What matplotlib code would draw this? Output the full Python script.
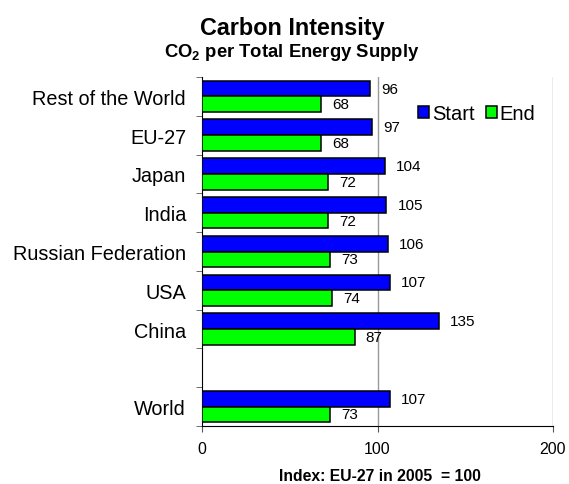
import matplotlib
matplotlib.use("Agg")
import matplotlib.pyplot as plt
import numpy as np

plt.rcParams['font.family'] = ['Liberation Sans', 'DejaVu Sans']
plt.rcParams['mathtext.fontset'] = 'custom'
plt.rcParams['mathtext.rm'] = 'Liberation Sans'
plt.rcParams['mathtext.bf'] = 'Liberation Sans:bold'

categories = ["Rest of the World", "EU-27", "Japan", "India", "Russian Federation",
              "USA", "China", "", "World"]
start_vals = [96, 97, 104, 105, 106, 107, 135, None, 107]
end_vals = [68, 68, 72, 72, 73, 74, 87, None, 73]
x_ticks = [0, 100, 200]

W, H = 569, 485
fig = plt.figure(figsize=(W / 100, H / 100), dpi=100)
ax = fig.add_axes([202 / W, 1 - 427 / H, 351 / W, 349 / H])

pos = np.arange(len(categories))
h = 0.405
for i, (s, e) in enumerate(zip(start_vals, end_vals)):
    if s is None:
        continue
    ax.barh(i - h / 2, s, height=h, color="#0000ff", edgecolor="black", linewidth=1.1,
            label="Start" if i == 0 else None, zorder=3)
    ax.barh(i + h / 2, e, height=h, color="#00ff00", edgecolor="black", linewidth=1.1,
            label="End" if i == 0 else None, zorder=3)
    ax.annotate(str(s), (s, i - h / 2), xytext=(8, 0), textcoords="offset points",
                va="center", ha="left", fontsize=11)
    ax.annotate(str(e), (e, i + h / 2), xytext=(8, 0), textcoords="offset points",
                va="center", ha="left", fontsize=11)

ax.set_xlim(0, 200)
ax.set_ylim(len(categories) - 0.5, -0.5)
ax.set_xticks(x_ticks)
ax.tick_params(axis="x", labelsize=11.5, length=4, pad=6.5, color="#555555")
ax.set_yticks(pos)
ax.set_yticklabels(categories, fontsize=14.3)
ax.tick_params(axis="y", length=0, pad=11.5)
ax.set_yticks(np.arange(-0.5, len(categories), 1), minor=True)
ax.tick_params(axis="y", which="minor", length=4, color="#555555")
for xv in x_ticks[1:]:
    ax.axvline(xv, color="#999999", linewidth=1, zorder=1)

for sp in ["top", "right"]:
    ax.spines[sp].set_visible(False)

fig.text(380 / W, 1 - 481 / H, "Index: EU-27 in 2005  = 100", ha="center", va="baseline",
         fontsize=11.3, fontweight="bold")

fig.text(292 / W, 1 - 35 / H, "Carbon Intensity", ha="center", va="baseline",
         fontsize=16.8, fontweight="bold")
fig.text(292 / W, 1 - 57 / H, "CO$_\\mathbf{2}$ per Total Energy Supply", ha="center",
         va="baseline", fontsize=13.3, fontweight="bold")

leg = ax.legend(loc="center left", bbox_to_anchor=(0.615, 0.894), ncol=2, frameon=False,
                fontsize=14.5, handlelength=0.55, handleheight=0.55, handletextpad=0.15,
                columnspacing=0.55, borderaxespad=0, borderpad=0)

fig.savefig("out.png", dpi=100)
